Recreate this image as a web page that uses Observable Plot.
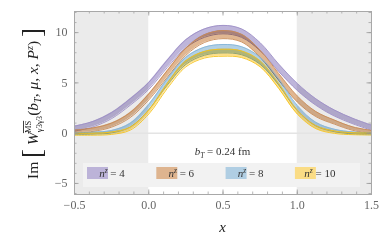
<!DOCTYPE html>
<html><head><meta charset="utf-8">
<script src="https://cdn.jsdelivr.net/npm/d3@7"></script>
<script src="https://cdn.jsdelivr.net/npm/@observablehq/plot@0.6"></script>
<style>body{margin:0;background:#fff} svg{display:block}</style>
</head><body><div id="chart"></div>
<script>
// ---- data ----
const xs = [-0.5,-0.375,-0.25,-0.125,0,0.125,0.25,0.375,0.5,0.625,0.75,0.875,1,1.125,1.25,1.375,1.5];
const seriesNames = ["4","6","8","10"];
const n4  = [0.45,0.9,1.75,3.1,4.7,6.9,8.9,9.95,10.3,9.95,8.6,6.5,4.6,3.1,2.0,1.2,0.55];
const n6  = [0.15,0.35,0.8,1.8,3.6,5.9,8.1,9.4,9.8,9.45,7.9,5.6,3.4,1.9,1.1,0.45,0.12];
const n8  = [-0.05,0.0,0.15,0.8,2.6,5.1,7.2,8.15,8.4,8.2,7.2,5.1,2.5,0.9,0.27,0.02,-0.06];
const n10 = [-0.1,-0.1,0.0,0.45,2.1,4.7,6.9,7.8,8.0,7.85,6.9,4.7,2.1,0.6,0.1,-0.05,-0.08];
const e4  = [0.25,0.27,0.3,0.32,0.35,0.37,0.4,0.42,0.42,0.42,0.4,0.37,0.35,0.32,0.3,0.27,0.25];
const e6  = [0.15,0.17,0.2,0.25,0.3,0.33,0.35,0.38,0.4,0.38,0.35,0.33,0.3,0.25,0.2,0.17,0.15];
const e8  = [0.1,0.1,0.12,0.18,0.25,0.3,0.35,0.4,0.42,0.4,0.35,0.3,0.25,0.18,0.12,0.1,0.1];
const e10 = [0.1,0.1,0.12,0.15,0.2,0.25,0.3,0.33,0.35,0.33,0.3,0.25,0.2,0.15,0.12,0.1,0.1];
const fills = ["#b3a8d4","#dba97e","#a4c8e1","#fbd872"];
const edges = ["#9d8fc6","#c98a55","#86b6d8","#f5c21a"];
const shadeStart = [-0.5, 1.0];
const shadeEnd = [0.0, 1.5];
const xTicks = [-0.5,0,0.5,1,1.5];
const yTicks = [-5,0,5,10];
const btLabel = "0.24 fm";

// ---- build table ----
const vals = [n4,n6,n8,n10], errs = [e4,e6,e8,e10];
const rows = [];
seriesNames.forEach((s,i)=> xs.forEach((x,j)=> rows.push({s, x, lo: vals[i][j]-errs[i][j], hi: vals[i][j]+errs[i][j]})));
const shaded = shadeStart.map((a,i)=>({x1:a, x2:shadeEnd[i]}));
const xMinor = d3.range(-0.5, 1.5001, 0.1).map(v=>+v.toFixed(2));
const yMinor = d3.range(-6, 12.001, 1);

const W=382, H=243, mL=74, mR=11, mT=11, mB=49;
const fw = W-mL-mR, fh = H-mT-mB;
const font = "Liberation Serif";

const bandMarks = [];
seriesNames.forEach((s,i)=>{
  const d = rows.filter(r=>r.s===s);
  bandMarks.push(Plot.areaY(d,{x:"x",y1:"lo",y2:"hi",fill:fills[i],fillOpacity:0.85,curve:"catmull-rom",mixBlendMode:"multiply"}));
  bandMarks.push(Plot.line(d,{x:"x",y:"lo",stroke:edges[i],strokeWidth:0.9,curve:"catmull-rom"}));
  bandMarks.push(Plot.line(d,{x:"x",y:"hi",stroke:edges[i],strokeWidth:0.9,curve:"catmull-rom"}));
});

const tc = "#9a9a9a";
const svg = Plot.plot({
  width:W, height:H, marginLeft:mL, marginRight:mR, marginTop:mT, marginBottom:mB,
  style:{fontFamily:font, fontSize:"12px", color:"#666", background:"#fff"},
  x:{domain:[-0.5,1.5]},
  y:{domain:[-6.1,12.1]},
  marks:[
    Plot.rect(shaded,{x1:"x1",x2:"x2",fill:"#ebebeb"}),
    Plot.ruleY([0],{stroke:"#e4e4e4",strokeWidth:1.5}),
    ...bandMarks,
    Plot.tickX(xMinor,{x:d=>d,insetTop:fh-2.5,stroke:tc,strokeWidth:0.7}),
    Plot.tickX(xMinor,{x:d=>d,insetBottom:fh-2.5,stroke:tc,strokeWidth:0.7}),
    Plot.tickX(xTicks,{x:d=>d,insetTop:fh-4.5,stroke:tc,strokeWidth:0.8}),
    Plot.tickX(xTicks,{x:d=>d,insetBottom:fh-4.5,stroke:tc,strokeWidth:0.8}),
    Plot.tickY(yMinor,{y:d=>d,insetRight:fw-2.5,stroke:tc,strokeWidth:0.7}),
    Plot.tickY(yMinor,{y:d=>d,insetLeft:fw-2.5,stroke:tc,strokeWidth:0.7}),
    Plot.tickY(yTicks,{y:d=>d,insetRight:fw-4.5,stroke:tc,strokeWidth:0.8}),
    Plot.tickY(yTicks,{y:d=>d,insetLeft:fw-4.5,stroke:tc,strokeWidth:0.8}),
    Plot.frame({stroke:"#a8a8a8",strokeWidth:1}),
    Plot.axisX({ticks:xTicks,tickSize:0,tickPadding:6,tickFormat:d3.format(".1f"),label:null,fontSize:12}),
    Plot.axisY({ticks:yTicks,tickSize:0,tickPadding:7,label:null,fontSize:12})
  ]
});
document.getElementById("chart").appendChild(svg);
const S = d3.select(svg);
const sx = svg.scale("x");

// b_T annotation
const bt = S.append("text").attr("x",sx.apply(0.5)).attr("y",155).attr("text-anchor","middle")
  .attr("font-family",font).attr("font-size",11).attr("fill","#333");
bt.append("tspan").attr("font-style","italic").text("b");
bt.append("tspan").attr("font-style","italic").attr("font-size",7.5).attr("dy",2.5).text("T");
bt.append("tspan").attr("dy",-2.5).text(" = " + btLabel);

// legend
const lg = S.append("g");
lg.append("rect").attr("x",mL+9).attr("y",163).attr("width",277).attr("height",24).attr("fill","#f2f2f2");
seriesNames.forEach((s,i)=>{
  const x0 = mL+13 + i*69.3;
  lg.append("rect").attr("x",x0).attr("y",167).attr("width",21).attr("height",12)
    .attr("fill",fills[i]).attr("fill-opacity",0.85);
  const t = lg.append("text").attr("x",x0+25).attr("y",177).attr("font-family",font).attr("font-size",11).attr("fill","#333");
  t.append("tspan").attr("font-style","italic").text("n");
  t.append("tspan").attr("font-style","italic").attr("font-size",7.5).attr("dy",-4).text("z");
  t.append("tspan").attr("dy",4).text(" = " + s);
});

// x label
S.append("text").attr("x",sx.apply(0.5)).attr("y",232).attr("text-anchor","middle")
  .attr("font-family",font).attr("font-style","italic").attr("font-size",15).attr("fill","#222").text("x");

// y label
const yl = S.append("text").attr("transform",`translate(38,${mT+fh/2+1}) rotate(-90)`).attr("text-anchor","middle")
  .attr("font-family",font).attr("font-size",15.5).attr("fill","#222");
yl.append("tspan").text("Im ");
yl.append("tspan").attr("font-size",27).attr("dy",2.5).text("[");
yl.append("tspan").attr("dy",-2.5).attr("font-style","italic").text(" W");
yl.append("tspan").attr("font-size",8.5).attr("dy",4).text("γ3γ3");
yl.append("tspan").attr("font-size",8.5).attr("dx",-17).attr("dy",-11).attr("text-decoration","overline").text("MS");
yl.append("tspan").attr("dx",5).attr("dy",7).text("(");
yl.append("tspan").attr("font-style","italic").text("b");
yl.append("tspan").attr("font-style","italic").attr("font-size",10).attr("dy",3).text("T");
yl.append("tspan").attr("dy",-3).text(", ");
yl.append("tspan").attr("font-style","italic").text("μ");
yl.append("tspan").text(", ");
yl.append("tspan").attr("font-style","italic").text("x");
yl.append("tspan").text(", ");
yl.append("tspan").attr("font-style","italic").text("P");
yl.append("tspan").attr("font-style","italic").attr("font-size",10).attr("dy",-5).text("z");
yl.append("tspan").attr("dy",5).text(") ");
yl.append("tspan").attr("font-size",27).attr("dy",2.5).text("]");
</script></body></html>
